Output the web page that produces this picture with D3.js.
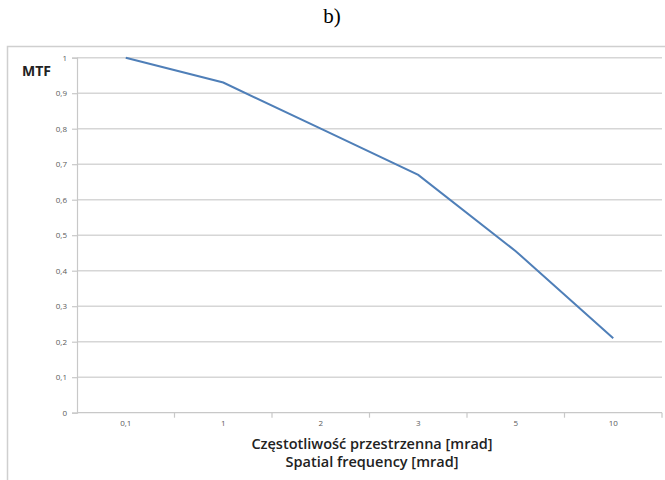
<!DOCTYPE html>
<html>
<head>
<meta charset="utf-8">
<script src="https://cdn.jsdelivr.net/npm/d3@7"></script>
<style>
  body { margin: 0; background: #fff; }
  svg { display: block; }
</style>
</head>
<body>
<div id="chart"></div>
<script>
// data
const categories = ['0,1', '1', '2', '3', '5', '10'];
const mtfValues = [1.0, 0.93, 0.80, 0.67, 0.455, 0.21];
const yTicks = [0, 0.1, 0.2, 0.3, 0.4, 0.5, 0.6, 0.7, 0.8, 0.9, 1];

const width = 665;
const height = 480;
const plot = { left: 77, right: 662, top: 57.7, bottom: 412.7 };

const svg = d3.select('#chart').append('svg')
    .attr('width', width)
    .attr('height', height);

// title above the frame
svg.append('text')
    .attr('x', 332)
    .attr('y', 23)
    .attr('text-anchor', 'middle')
    .style('font-family', '"Liberation Serif", "Times New Roman", serif')
    .style('font-size', '21px')
    .text('b)');

// chart frame (only left and top are visible in the crop)
svg.append('path')
    .attr('d', `M7.5,${height} V46.5 H${width}`)
    .attr('fill', 'none')
    .attr('stroke', '#cfcfcf')
    .attr('stroke-width', 1.5);

const xScale = d3.scaleBand()
    .domain(categories)
    .range([plot.left, plot.right]);

const yScale = d3.scaleLinear()
    .domain([0, 1])
    .range([plot.bottom, plot.top]);

// gridlines
svg.append('g')
    .attr('class', 'gridlines')
    .selectAll('line')
    .data(yTicks.filter((d) => d > 0))
    .join('line')
    .attr('x1', plot.left)
    .attr('x2', plot.right)
    .attr('y1', (d) => yScale(d))
    .attr('y2', (d) => yScale(d))
    .attr('stroke', '#d6d6d6')
    .attr('stroke-width', 1.6);

// y axis
const yAxis = svg.append('g')
    .attr('transform', `translate(${plot.left}, 0)`)
    .call(d3.axisLeft(yScale)
        .tickValues(yTicks)
        .tickSize(5)
        .tickPadding(5)
        .tickFormat((d) => d3.format('~g')(d).replace('.', ',')));

yAxis.select('.domain').attr('stroke', '#c8c8c8').attr('stroke-width', 1.2);
yAxis.selectAll('.tick line').attr('stroke', '#c8c8c8').attr('stroke-width', 1.2);
yAxis.selectAll('.tick text')
    .attr('fill', '#5a5a5a')
    .style('font-family', '"Open Sans", "Liberation Sans", sans-serif')
    .style('font-size', '8px');

// x axis: ticks sit on the band boundaries
const xAxisG = svg.append('g')
    .attr('transform', `translate(0, ${plot.bottom})`);

xAxisG.append('line')
    .attr('x1', plot.left)
    .attr('x2', plot.right)
    .attr('stroke', '#c8c8c8')
    .attr('stroke-width', 1.2);

xAxisG.selectAll('.xtick')
    .data(categories)
    .join('line')
    .attr('class', 'xtick')
    .attr('x1', (d) => xScale(d) + xScale.bandwidth())
    .attr('x2', (d) => xScale(d) + xScale.bandwidth())
    .attr('y1', 0)
    .attr('y2', 5)
    .attr('stroke', '#c8c8c8')
    .attr('stroke-width', 1.2);

xAxisG.selectAll('.xlabel')
    .data(categories)
    .join('text')
    .attr('class', 'xlabel')
    .attr('x', (d) => xScale(d) + xScale.bandwidth() / 2)
    .attr('y', 13)
    .attr('text-anchor', 'middle')
    .attr('fill', '#5a5a5a')
    .style('font-family', '"Open Sans", "Liberation Sans", sans-serif')
    .style('font-size', '8px')
    .text((d) => d);

// MTF line
const line = d3.line()
    .x((d, i) => xScale(categories[i]) + xScale.bandwidth() / 2)
    .y((d) => yScale(d));

svg.append('path')
    .datum(mtfValues)
    .attr('d', line)
    .attr('fill', 'none')
    .attr('stroke', '#4f7fb8')
    .attr('stroke-width', 2);

// axis titles
svg.append('text')
    .attr('x', 22)
    .attr('y', 76)
    .style('font-family', '"Open Sans", "Liberation Sans", sans-serif')
    .style('font-size', '14px')
    .style('font-weight', 'bold')
    .attr('fill', '#222')
    .text('MTF');

const xTitle = svg.append('text')
    .attr('text-anchor', 'middle')
    .style('font-family', '"Open Sans", "Liberation Sans", sans-serif')
    .style('font-size', '14.5px')
    .style('font-weight', '600')
    .attr('fill', '#222');

xTitle.append('tspan')
    .attr('x', 372)
    .attr('y', 449)
    .text('Częstotliwość przestrzenna [mrad]');

xTitle.append('tspan')
    .attr('x', 372)
    .attr('y', 467)
    .text('Spatial frequency [mrad]');
</script>
</body>
</html>
